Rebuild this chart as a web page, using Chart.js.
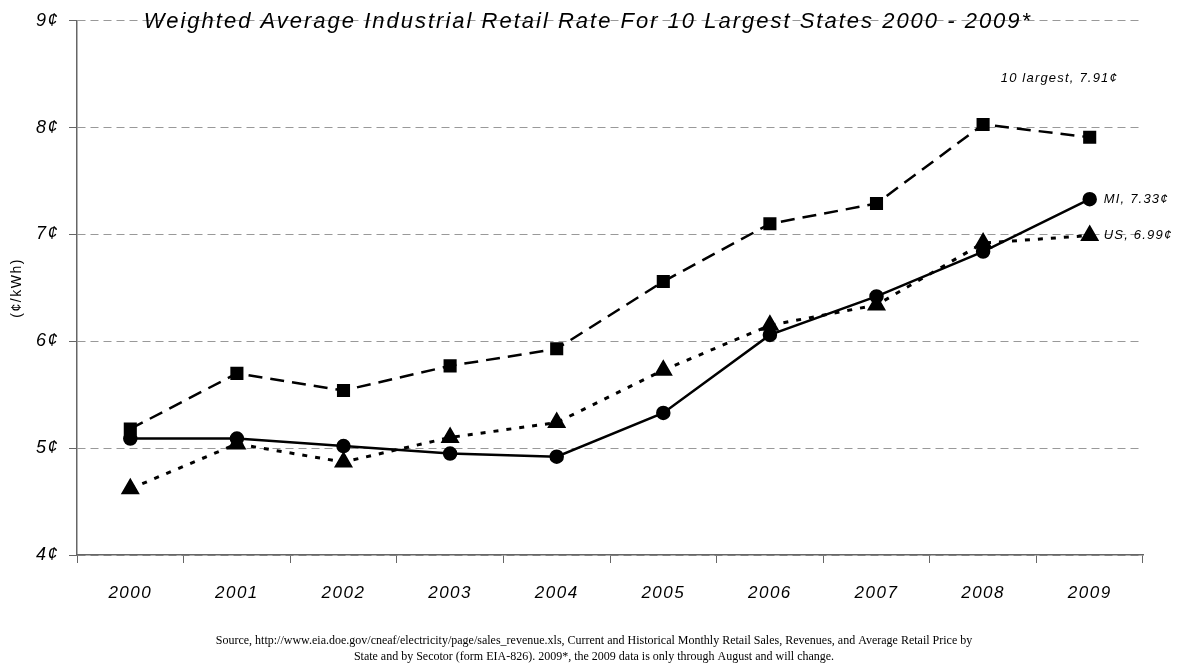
<!DOCTYPE html>
<html>
<head>
<meta charset="utf-8">
<script src="https://cdn.jsdelivr.net/npm/chart.js@4/dist/chart.umd.min.js"></script>
<style>
  html, body { margin: 0; padding: 0; background: #fff; }
  #wrap { width: 1188px; height: 668px; position: relative; }
</style>
</head>
<body>
<div id="wrap"><canvas id="grafico"></canvas></div>
<script>
// dados
var anos = ['2000', '2001', '2002', '2003', '2004', '2005', '2006', '2007', '2008', '2009'];
var dezMaiores = [5.18, 5.70, 5.54, 5.77, 5.93, 6.56, 7.10, 7.29, 8.03, 7.91];
var michigan = [5.09, 5.09, 5.02, 4.95, 4.92, 5.33, 6.06, 6.42, 6.84, 7.33];
var eua = [4.62, 5.04, 4.87, 5.10, 5.24, 5.73, 6.15, 6.34, 6.92, 6.99];
var ticksY = [4, 5, 6, 7, 8, 9];

var titulo = 'Weighted Average Industrial Retail Rate For 10 Largest States 2000 - 2009*';
var fonte1 = 'Source, http://www.eia.doe.gov/cneaf/electricity/page/sales_revenue.xls, Current and Historical Monthly Retail Sales, Revenues, and Average Retail Price by';
var fonte2 = 'State and by Secotor (form EIA-826). 2009*, the 2009 data is only through August and will change.';

var FAMILIA = '"Liberation Sans", Arial, sans-serif';

// plugin p/ textos extras (titulo, rotulos, fonte)
var textosExtras = {
    id: 'textosExtras',
    beforeDraw: function(chart) {
        chart.ctx.letterSpacing = '1.5px';
    },
    afterDraw: function(chart) {
        var ctx = chart.ctx;
        var area = chart.chartArea;
        ctx.save();
        ctx.fillStyle = '#000';
        ctx.textBaseline = 'middle';

        // titulo
        ctx.letterSpacing = '2px';
        ctx.font = 'italic 22px ' + FAMILIA;
        ctx.textAlign = 'center';
        ctx.fillText(titulo, 588, area.top + 1);

        // rotulos das series
        ctx.font = 'italic 13px ' + FAMILIA;
        ctx.letterSpacing = '1.2px';
        ctx.textAlign = 'left';
        var m0 = chart.getDatasetMeta(0).data[9];
        var m1 = chart.getDatasetMeta(1).data[9];
        var m2 = chart.getDatasetMeta(2).data[9];
        ctx.fillText('10 largest, 7.91\u00a2', m0.x - 89, m0.y - 59);
        ctx.fillText('MI, 7.33\u00a2', m1.x + 14, m1.y);
        ctx.fillText('US, 6.99\u00a2', m2.x + 14, m2.y);

        // fonte
        ctx.letterSpacing = '0px';
        ctx.font = '12px "Liberation Serif", "Times New Roman", serif';
        ctx.textAlign = 'center';
        ctx.fillText(fonte1, 594, 641);
        ctx.fillText(fonte2, 594, 657);
        ctx.restore();
    }
};

function plotarGrafico() {
    var ctx = document.getElementById('grafico').getContext('2d');
    var myChart = new Chart(ctx, {
        type: 'line',
        data: {
            labels: anos,
            datasets: [{
                label: '10 largest',
                data: dezMaiores,
                borderColor: '#000',
                backgroundColor: '#000',
                borderWidth: 2.5,
                borderDash: [14, 8],
                pointStyle: 'rect',
                pointRadius: 7.5,
                pointHoverRadius: 7.5,
                tension: 0,
                fill: false,
            }, {
                label: 'MI',
                data: michigan,
                borderColor: '#000',
                backgroundColor: '#000',
                borderWidth: 2.5,
                pointStyle: 'circle',
                pointRadius: 6,
                pointHoverRadius: 6,
                tension: 0,
                fill: false,
            }, {
                label: 'US',
                data: eua,
                borderColor: '#000',
                backgroundColor: '#000',
                borderWidth: 3,
                borderDash: [5, 8],
                pointStyle: 'triangle',
                pointRadius: 8,
                pointHoverRadius: 8,
                tension: 0,
                fill: false,
            }],
        },
        options: {
            responsive: true,
            maintainAspectRatio: false,
            animation: false,
            events: [],
            layout: { padding: { top: 20, right: 45, left: 0, bottom: 0 } },
            plugins: {
                legend: { display: false },
                tooltip: { enabled: false },
            },
            scales: {
                x: {
                    offset: true,
                    grid: {
                        offset: true,
                        drawOnChartArea: false,
                        drawTicks: true,
                        tickLength: 8,
                        color: '#666',
                        lineWidth: 1,
                    },
                    border: { color: '#666', width: 1.5 },
                    ticks: {
                        color: '#000',
                        padding: 20,
                        maxRotation: 0,
                        font: { family: FAMILIA, size: 17, style: 'italic' },
                    },
                    afterFit: function(scale) { scale.height = 113; },
                },
                y: {
                    min: 4,
                    max: 9,
                    afterBuildTicks: function(scale) {
                        scale.ticks = ticksY.map(function(v) { return { value: v }; });
                    },
                    grid: {
                        color: '#999',
                        lineWidth: 1,
                        drawTicks: true,
                        tickLength: 8,
                        tickColor: '#666',
                        tickBorderDash: [],
                    },
                    border: { color: '#666', width: 1.5, dash: [8, 5] },
                    ticks: {
                        color: '#000',
                        padding: 10,
                        font: { family: FAMILIA, size: 18, style: 'italic' },
                        callback: function(v) { return v + '\u00a2'; },
                    },
                    title: {
                        display: true,
                        text: '(\u00a2/kWh)',
                        color: '#000',
                        padding: { top: 9, bottom: 0 },
                        font: { family: FAMILIA, size: 14 },
                    },
                    afterFit: function(scale) { scale.width = 77; },
                },
            },
        },
        plugins: [textosExtras],
    });
}

plotarGrafico();
</script>
</body>
</html>
